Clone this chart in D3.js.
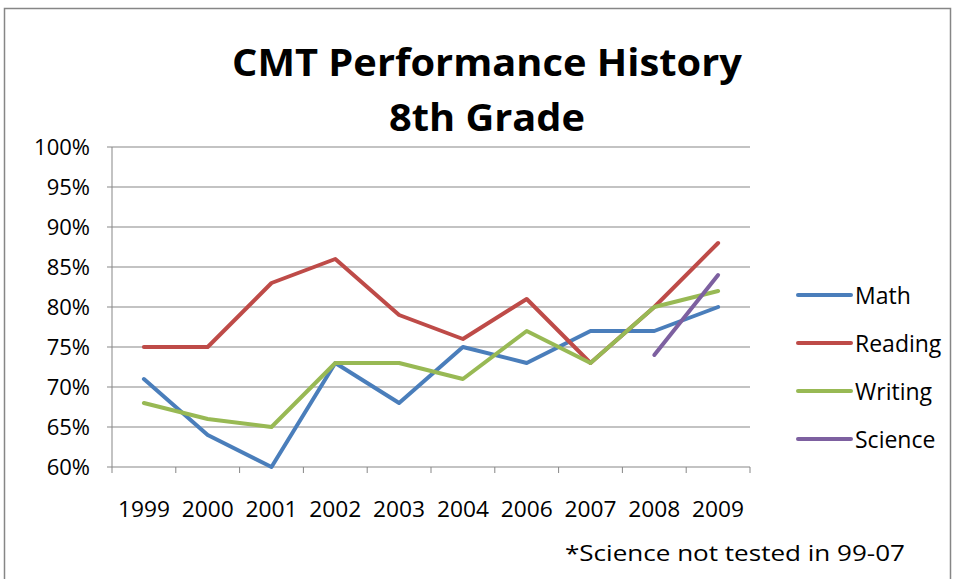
<!DOCTYPE html>
<html>
<head>
<meta charset="utf-8">
<script src="https://cdn.jsdelivr.net/npm/d3@7"></script>
<style>
  body { margin: 0; background: #fff; }
  text { font-family: "Open Sans", "Noto Sans", sans-serif; fill: #000; }
</style>
</head>
<body>
<script>
// data
const years = ["1999", "2000", "2001", "2002", "2003", "2004", "2006", "2007", "2008", "2009"];
const math = [71, 64, 60, 73, 68, 75, 73, 77, 77, 80];
const reading = [75, 75, 83, 86, 79, 76, 81, 73, 80, 88];
const writing = [68, 66, 65, 73, 73, 71, 77, 73, 80, 82];
const science = [null, null, null, null, null, null, null, null, 74, 84];
const yTicks = [60, 65, 70, 75, 80, 85, 90, 95, 100];

const seriesNames = ["Math", "Reading", "Writing", "Science"];
const seriesColors = ["#4a7ebb", "#be4b48", "#98b954", "#7d60a0"];
const seriesValues = [math, reading, writing, science];

const w = 955, h = 579;
const margin = { left: 112, right: 205, top: 147, bottom: 112 };

const svg = d3.select("body").append("svg")
  .attr("width", w)
  .attr("height", h);

// outer frame
svg.append("rect")
  .attr("x", 4.5).attr("y", 8.5)
  .attr("width", 946).attr("height", 580)
  .attr("fill", "none")
  .attr("stroke", "#868686")
  .attr("stroke-width", 1.5);

const x = d3.scaleBand()
  .domain(years)
  .range([margin.left, w - margin.right]);

const y = d3.scaleLinear()
  .domain([60, 100])
  .range([h - margin.bottom, margin.top]);

// gridlines
svg.append("g")
  .selectAll("line")
  .data(yTicks)
  .join("line")
  .attr("x1", margin.left - 5)
  .attr("x2", w - margin.right)
  .attr("y1", d => y(d))
  .attr("y2", d => y(d))
  .attr("stroke", "#878787")
  .attr("stroke-width", 1);

// y axis
svg.append("line")
  .attr("x1", margin.left).attr("x2", margin.left)
  .attr("y1", y(100)).attr("y2", y(60))
  .attr("stroke", "#878787");

svg.append("g")
  .selectAll("text")
  .data(yTicks)
  .join("text")
  .attr("x", margin.left - 22)
  .attr("y", d => y(d) + 8)
  .attr("text-anchor", "end")
  .style("font-size", "22px")
  .text(d => d + "%");

// x axis ticks at category boundaries
const bounds = years.map(d => x(d)).concat([x.range()[1]]);
svg.append("g")
  .selectAll("line")
  .data(bounds)
  .join("line")
  .attr("x1", d => d).attr("x2", d => d)
  .attr("y1", y(60)).attr("y2", y(60) + 6)
  .attr("stroke", "#878787");

svg.append("g")
  .selectAll("text")
  .data(years)
  .join("text")
  .attr("x", d => x(d) + x.bandwidth() / 2)
  .attr("y", y(60) + 50)
  .attr("text-anchor", "middle")
  .style("font-size", "22px")
  .attr("textLength", 52)
  .attr("lengthAdjust", "spacingAndGlyphs")
  .text(d => d);

// lines
const line = d3.line()
  .defined(d => d != null)
  .x((d, i) => x(years[i]) + x.bandwidth() / 2)
  .y(d => y(d));

svg.append("g")
  .selectAll("path")
  .data(seriesValues)
  .join("path")
  .attr("d", d => line(d))
  .attr("fill", "none")
  .attr("stroke", (d, i) => seriesColors[i])
  .attr("stroke-width", 4)
  .attr("stroke-linejoin", "round")
  .attr("stroke-linecap", "round");

// legend
const legend = svg.append("g")
  .selectAll("g")
  .data(seriesNames)
  .join("g")
  .attr("transform", (d, i) => `translate(798, ${295 + i * 48})`);

legend.append("line")
  .attr("x1", 0).attr("x2", 53)
  .attr("stroke", (d, i) => seriesColors[i])
  .attr("stroke-width", 4)
  .attr("stroke-linecap", "round");

legend.append("text")
  .attr("x", 57)
  .attr("y", 9)
  .style("font-size", "23px")
  .text(d => d);

// title
svg.append("text")
  .attr("x", 487).attr("y", 76)
  .attr("text-anchor", "middle")
  .style("font-size", "37px")
  .style("font-weight", "bold")
  .attr("textLength", 510)
  .attr("lengthAdjust", "spacingAndGlyphs")
  .text("CMT Performance History");

svg.append("text")
  .attr("x", 487).attr("y", 131)
  .attr("text-anchor", "middle")
  .style("font-size", "37px")
  .style("font-weight", "bold")
  .attr("textLength", 196)
  .attr("lengthAdjust", "spacingAndGlyphs")
  .text("8th Grade");

// footnote
svg.append("text")
  .attr("x", 565).attr("y", 561)
  .style("font-size", "22px")
  .attr("textLength", 340)
  .attr("lengthAdjust", "spacingAndGlyphs")
  .text("*Science not tested in 99-07");
</script>
</body>
</html>
